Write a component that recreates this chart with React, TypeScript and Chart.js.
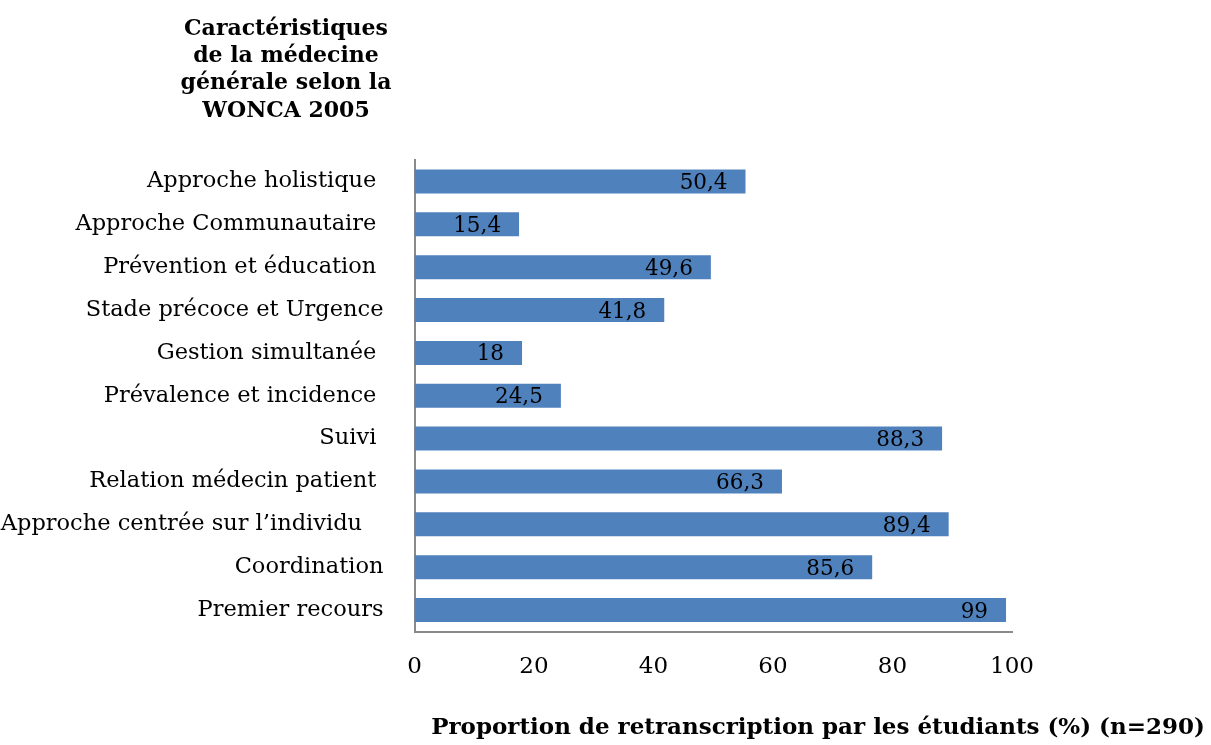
import React, { useEffect, useRef } from "react";
import { Chart, registerables } from "chart.js";

Chart.register(...registerables);

const categories = [
  "Approche holistique ",
  "Approche Communautaire ",
  "Prévention et éducation ",
  "Stade précoce et Urgence",
  "Gestion simultanée ",
  "Prévalence et incidence ",
  "Suivi ",
  "Relation médecin patient ",
  "Approche centrée sur l’individu   ",
  "Coordination",
  "Premier recours",
];
// bar lengths as drawn in the reference
const barValues = [55.4, 17.5, 49.6, 41.8, 18, 24.5, 88.3, 61.5, 89.4, 76.6, 99];
// value labels as printed in the reference
const valueLabels = ["50,4", "15,4", "49,6", "41,8", "18", "24,5", "88,3", "66,3", "89,4", "85,6", "99"];
const titleLines = ["Caractéristiques", "de la médecine", "générale selon la", "WONCA 2005"];
const xAxisTitle = "Proportion de retranscription par les étudiants (%) (n=290)";
const xMin = 0;
const xMax = 100;
const xStep = 20;

const SERIF = "'DejaVu Serif', 'Liberation Serif', serif";

const textPlugin = {
  id: "extraText",
  afterDatasetsDraw(chart: any) {
    const ctx = chart.ctx;
    const meta = chart.getDatasetMeta(0);
    ctx.save();
    ctx.fillStyle = "#000";
    ctx.font = `21.5px ${SERIF}`;
    ctx.textAlign = "right";
    ctx.textBaseline = "middle";
    meta.data.forEach((bar: any, i: number) => {
      ctx.fillText(valueLabels[i], bar.x - 18, bar.y + 2);
    });
    ctx.restore();
  },
  afterDraw(chart: any) {
    const ctx = chart.ctx;
    ctx.save();
    ctx.fillStyle = "#000";
    ctx.font = `bold 22px ${SERIF}`;
    ctx.textAlign = "center";
    ctx.textBaseline = "middle";
    titleLines.forEach((line, i) => {
      ctx.fillText(line, 286, 29 + i * 27.3);
    });
    ctx.font = `bold 23px ${SERIF}`;
    ctx.fillText(xAxisTitle, 818, 728);
    ctx.restore();
  },
};

export default function App() {
  const ref = useRef<HTMLCanvasElement>(null);
  useEffect(() => {
    if (!ref.current) return;
    const chart = new Chart(ref.current, {
      type: "bar",
      data: {
        labels: categories,
        datasets: [
          {
            data: barValues,
            backgroundColor: "#4F81BD",
            borderWidth: 0,
            barPercentage: 0.8,
            categoryPercentage: 0.7,
          },
        ],
      },
      options: {
        indexAxis: "y",
        animation: false,
        responsive: true,
        maintainAspectRatio: false,
        layout: { padding: { left: 0, right: 199, top: 160, bottom: 0 } },
        plugins: {
          legend: { display: false },
          tooltip: { enabled: false },
          title: { display: false },
        },
        scales: {
          x: {
            min: xMin,
            max: xMax,
            grid: { display: false, drawTicks: false },
            border: { display: true, color: "#8A8A8A", width: 2 },
            ticks: {
              stepSize: xStep,
              padding: 22,
              color: "#000",
              font: { family: SERIF, size: 23 },
            },
            afterFit(scale: any) {
              scale.height = 113.5;
            },
          },
          y: {
            grid: { display: false, drawTicks: false },
            border: { display: true, color: "#8A8A8A", width: 2 },
            ticks: {
              padding: 31,
              color: "#000",
              autoSkip: false,
              font: { family: SERIF, size: 22.5 },
            },
            afterFit(scale: any) {
              scale.width = 414.5;
            },
          },
        },
      },
      plugins: [textPlugin],
    });
    return () => chart.destroy();
  }, []);
  return (
    <div style={{ position: "fixed", left: 0, top: 0, width: 1211, height: 745, background: "#fff" }}>
      <canvas ref={ref} />
    </div>
  );
}
